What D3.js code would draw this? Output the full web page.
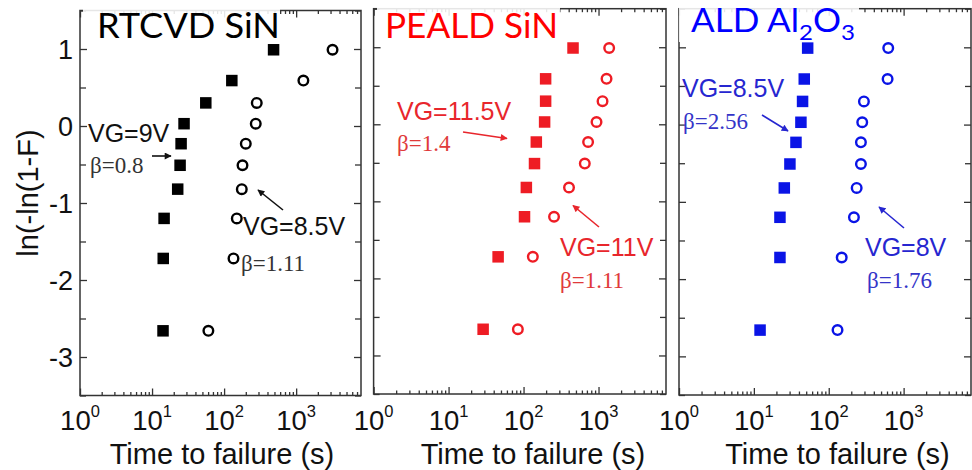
<!DOCTYPE html>
<html>
<head>
<meta charset="utf-8">
<script src="https://cdn.jsdelivr.net/npm/d3@7"></script>
<style>
  body { margin: 0; background: #fff; }
  svg { display: block; }
</style>
</head>
<body>
<svg id="chart" width="972" height="470"></svg>
<script>
// Weibull plotting positions, ln(-ln(1-F)), for the 10 devices of each set
const weibullY = [-2.66, -1.72, -1.20, -0.82, -0.51, -0.23, 0.03, 0.30, 0.59, 0.99];

// Time to failure (s), sorted ascending, for each dielectric at two gate voltages
const rtcvdHighV = [14.2, 14.3, 14.7, 22.7, 24.5, 25.3, 27.8, 55.7, 128, 486];     // VG=9V
const rtcvdLowV  = [60.5, 135, 150, 176, 180, 200, 275, 284, 1260, 3200];          // VG=8.5V
const pealdHighV = [28.9, 45.8, 103, 109, 140, 148, 191, 197, 197, 457];           // VG=11.5V
const pealdLowV  = [84, 133, 255, 404, 656, 726, 940, 1131, 1279, 1387];           // VG=11V
const aldHighV   = [12.1, 22.3, 22.3, 25.5, 30.3, 36.5, 42.5, 44.7, 47.1, 52.3];   // VG=8.5V
const aldLowV    = [131, 149, 217, 236, 269, 269, 280, 295, 611, 623];             // VG=8V

const panelTitles = ["RTCVD SiN", "PEALD SiN", "ALD Al2O3"];
const highVLabels = ["VG=9V", "VG=11.5V", "VG=8.5V"];
const highVBeta   = ["β=0.8", "β=1.4", "β=2.56"];
const lowVLabels  = ["VG=8.5V", "VG=11V", "VG=8V"];
const lowVBeta    = ["β=1.11", "β=1.11", "β=1.76"];

const xTickValues = [1, 10, 100, 1000];
const xTickExponents = ["0", "1", "2", "3"];
const yTickValues = [-3, -2, -1, 0, 1];
const yTickLabels = ["-3", "-2", "-1", "0", "1"];
const xTitle = "Time to failure (s)";
const yTitle = "ln(-ln(1-F)";

const xMax = Math.pow(10, 3.9);
const yDomain = [-3.5, 1.5];

// Panel geometry and styling
const panels = [
  { high: rtcvdHighV, low: rtcvdLowV, x0: 80, x1: 361, yTop: 10.5, yBot: 395.5,
    mark: "#000", title: "#000", note: "#111", beta: "#333",
    titleX: 97, titleY: 38, titleSize: 34, titleW: 183, box: [83, 0, 197, 42],
    hi: { lx: 88, ly: 142, bx: 90, by: 173, a: [152, 156, 171, 156] },
    lo: { lx: 243, ly: 235, bx: 241, by: 271, a: [283, 210, 258, 190] },
    xTitleX: 222 },
  { high: pealdHighV, low: pealdLowV, x0: 373.6, x1: 666, yTop: 8.7, yBot: 394,
    mark: "#ee1c24", title: "#ff0000", note: "#e8262c", beta: "#e03a3a",
    titleX: 385, titleY: 38, titleSize: 34, titleW: 173, box: [377, 0, 183, 41],
    hi: { lx: 397, ly: 120, bx: 397, by: 151, a: [463, 132, 507, 138.5] },
    lo: { lx: 560, ly: 256, bx: 560, by: 288, a: [599, 227, 573, 205.5] },
    xTitleX: 533 },
  { high: aldHighV, low: aldLowV, x0: 679, x1: 971, yTop: 8.7, yBot: 395,
    mark: "#0a14e6", title: "#0000ff", note: "#2626d0", beta: "#3434c8",
    titleX: 691, titleY: 32, titleSize: 32, titleW: 164, box: [679, 0, 180, 42],
    hi: { lx: 682, ly: 97, bx: 683, by: 129, a: [762, 115, 788, 131] },
    lo: { lx: 865, ly: 256, bx: 867, by: 288, a: [904, 228, 879, 207] },
    xTitleX: 837.5 }
];

const svg = d3.select("#chart");
const defs = svg.append("defs");
const SANS = "'Liberation Sans', Arial, sans-serif";
const SERIF = "'Liberation Serif', 'Times New Roman', serif";

// Minor log ticks 2..9 within each decade
const minorX = [];
[1, 10, 100, 1000].forEach(d => { for (let k = 2; k <= 9; k++) if (d * k <= xMax) minorX.push(d * k); });
const minorY = [-3.5, -2.5, -1.5, -0.5, 0.5, 1.5];

panels.forEach((p, pi) => {
  const x = d3.scaleLog().domain([1, xMax]).range([p.x0, p.x1]);
  const y = d3.scaleLinear().domain(yDomain).range([p.yBot, p.yTop]);
  const g = svg.append("g");

  // arrowhead marker in the panel colour
  defs.append("marker")
    .attr("id", "arrow" + pi)
    .attr("viewBox", "0 0 10 10").attr("refX", 9).attr("refY", 5)
    .attr("markerWidth", 9).attr("markerHeight", 7)
    .attr("markerUnits", "userSpaceOnUse")
    .attr("orient", "auto")
    .append("path").attr("d", "M0,0 L10,5 L0,10 Z").attr("fill", p.note);

  const tickStyle = sel => {
    sel.select(".domain").remove();
    sel.selectAll(".tick line").attr("stroke", "#333").attr("stroke-width", 1.3);
    sel.selectAll(".tick text").remove();
  };

  // bottom / top ticks (inward)
  g.append("g").attr("transform", `translate(0,${p.yBot})`)
    .call(d3.axisBottom(x).tickValues(xTickValues).tickSizeInner(-7).tickSizeOuter(0)).call(tickStyle);
  g.append("g").attr("transform", `translate(0,${p.yBot})`)
    .call(d3.axisBottom(x).tickValues(minorX).tickSizeInner(-3.5).tickSizeOuter(0)).call(tickStyle);
  g.append("g").attr("transform", `translate(0,${p.yTop})`)
    .call(d3.axisTop(x).tickValues(xTickValues).tickSizeInner(-7).tickSizeOuter(0)).call(tickStyle);
  g.append("g").attr("transform", `translate(0,${p.yTop})`)
    .call(d3.axisTop(x).tickValues(minorX).tickSizeInner(-3.5).tickSizeOuter(0)).call(tickStyle);

  // left / right ticks (inward)
  g.append("g").attr("transform", `translate(${p.x0},0)`)
    .call(d3.axisLeft(y).tickValues(yTickValues).tickSizeInner(-7).tickSizeOuter(0)).call(tickStyle);
  g.append("g").attr("transform", `translate(${p.x0},0)`)
    .call(d3.axisLeft(y).tickValues(minorY).tickSizeInner(-6).tickSizeOuter(0)).call(tickStyle);
  g.append("g").attr("transform", `translate(${p.x1},0)`)
    .call(d3.axisRight(y).tickValues(yTickValues).tickSizeInner(-7).tickSizeOuter(0)).call(tickStyle);
  g.append("g").attr("transform", `translate(${p.x1},0)`)
    .call(d3.axisRight(y).tickValues(minorY).tickSizeInner(-6).tickSizeOuter(0)).call(tickStyle);

  // plot frame
  g.append("rect")
    .attr("x", p.x0).attr("y", p.yTop)
    .attr("width", p.x1 - p.x0).attr("height", p.yBot - p.yTop)
    .attr("fill", "none").attr("stroke", "#333").attr("stroke-width", 1.5);

  // x tick labels 10^n
  const xl = g.append("g").selectAll("text").data(xTickValues).join("text")
    .attr("x", d => x(d)).attr("y", 430)
    .attr("text-anchor", "middle")
    .attr("font-family", SANS).attr("font-size", 27.5).attr("fill", "#111");
  xl.append("tspan").text("10");
  xl.append("tspan").attr("dy", -13).attr("font-size", 16.5).text((d, i) => xTickExponents[i]);

  // y tick labels on the first panel only
  if (pi === 0) {
    g.append("g").selectAll("text").data(yTickValues).join("text")
      .attr("x", 73).attr("y", d => y(d)).attr("dy", "0.36em")
      .attr("text-anchor", "end")
      .attr("font-family", SANS).attr("font-size", 27).attr("fill", "#111")
      .text((d, i) => yTickLabels[i]);
    svg.append("text")
      .attr("transform", "translate(38,193) rotate(-90)")
      .attr("text-anchor", "middle")
      .attr("font-family", SANS).attr("font-size", 29).attr("fill", "#111")
      .text(yTitle);
  }

  // x axis title
  g.append("text")
    .attr("x", p.xTitleX).attr("y", 464)
    .attr("text-anchor", "middle")
    .attr("font-family", SANS).attr("font-size", 29).attr("fill", "#111")
    .text(xTitle);

  // lower-voltage set: open circles
  g.append("g").selectAll("circle").data(p.low).join("circle")
    .attr("cx", d => x(d)).attr("cy", (d, i) => y(weibullY[i]))
    .attr("r", 4.8).attr("fill", "none")
    .attr("stroke", p.mark).attr("stroke-width", 2.4);

  // higher-voltage set: filled squares
  const s = 11.5;
  g.append("g").selectAll("rect").data(p.high).join("rect")
    .attr("x", d => x(d) - s / 2).attr("y", (d, i) => y(weibullY[i]) - s / 2)
    .attr("width", s).attr("height", s).attr("fill", p.mark);

  // annotations
  const note = (o, label, beta) => {
    g.append("text").attr("x", o.lx).attr("y", o.ly)
      .attr("font-family", SANS).attr("font-size", 25).attr("fill", p.note).text(label);
    g.append("text").attr("x", o.bx).attr("y", o.by)
      .attr("font-family", SERIF).attr("font-size", 23).attr("fill", p.beta).text(beta);
    g.append("line")
      .attr("x1", o.a[0]).attr("y1", o.a[1]).attr("x2", o.a[2]).attr("y2", o.a[3])
      .attr("stroke", p.note).attr("stroke-width", 1.6)
      .attr("marker-end", `url(#arrow${pi})`);
  };
  note(p.hi, highVLabels[pi], highVBeta[pi]);
  note(p.lo, lowVLabels[pi], lowVBeta[pi]);

  // title on a white label box
  g.append("rect")
    .attr("x", p.box[0]).attr("y", p.box[1]).attr("width", p.box[2]).attr("height", p.box[3])
    .attr("fill", "#fff").attr("fill-opacity", 0.88);
  const t = g.append("text")
    .attr("x", p.titleX).attr("y", p.titleY)
    .attr("font-family", "Lato, 'Open Sans', sans-serif").attr("font-size", p.titleSize)
    .attr("fill", p.title)
    .attr("textLength", p.titleW).attr("lengthAdjust", "spacingAndGlyphs");
  const title = panelTitles[pi];
  if (title === "ALD Al2O3") {
    t.append("tspan").text("ALD Al");
    t.append("tspan").attr("font-size", 22).attr("dy", 8).text("2");
    t.append("tspan").attr("dy", -8).text("O");
    t.append("tspan").attr("font-size", 22).attr("dy", 8).text("3");
  } else {
    t.text(title);
  }
});
</script>
</body>
</html>
